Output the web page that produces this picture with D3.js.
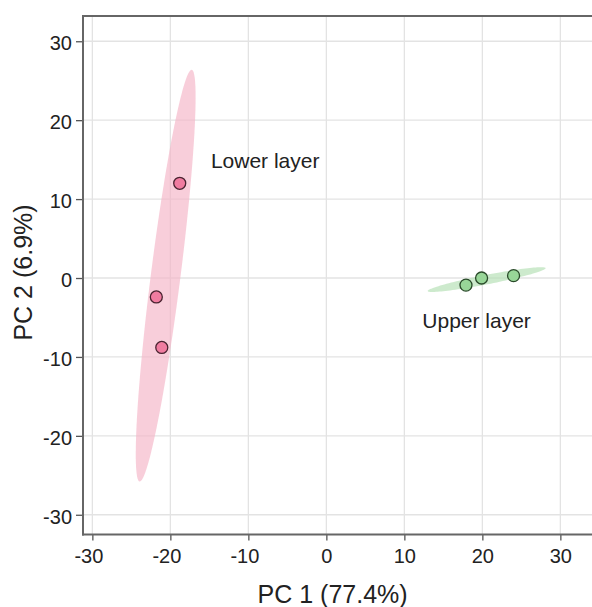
<!DOCTYPE html>
<html>
<head>
<meta charset="utf-8">
<script src="https://cdn.jsdelivr.net/npm/d3@7"></script>
<style>
  body { margin: 0; background: #fff; }
  text { font-family: "Liberation Sans", Arial, sans-serif; fill: #222; }
</style>
</head>
<body>
<svg id="pca"></svg>
<script>
var width = 592;
var height = 607;
var margin = { top: 16, bottom: 73, left: 83, right: 0 };

// sample scores (PC1, PC2)
var lowerPC1 = [-18.8, -21.8, -21.1];
var lowerPC2 = [12.0, -2.4, -8.8];
var upperPC1 = [17.9, 19.9, 24.0];
var upperPC2 = [-0.9, 0.0, 0.3];
var groupNames = ["Lower layer", "Upper layer"];
var ticks = [-30, -20, -10, 0, 10, 20, 30];

// confidence ellipses: centre, semi-axes (data units), rotation (degrees)
var lowerEllipse = { cx: -20.6, cy: 0.3, a: 26.3, b: 1.9, angle: 82.7 };
var upperEllipse = { cx: 20.55, cy: -0.2, a: 7.7, b: 0.6, angle: 10.9 };

var svg = d3.select('#pca')
  .attr('width', width)
  .attr('height', height);

var x = d3.scaleLinear()
  .domain([-31.2, 34])
  .range([margin.left, margin.left + 65.2 * 7.8]);

var y = d3.scaleLinear()
  .domain([-32.5, 33.2])
  .range([height - margin.bottom + 0.5, margin.top]);

// grid
svg.append("g").selectAll("line")
  .data(ticks)
  .join("line")
    .attr("x1", d => x(d)).attr("x2", d => x(d))
    .attr("y1", margin.top).attr("y2", y.range()[0])
    .attr("stroke", "#e3e3e3").attr("stroke-width", 1.3);

svg.append("g").selectAll("line")
  .data(ticks)
  .join("line")
    .attr("y1", d => y(d)).attr("y2", d => y(d))
    .attr("x1", margin.left).attr("x2", width)
    .attr("stroke", "#e3e3e3").attr("stroke-width", 1.3);

// ellipses
function ellipsePath(e) {
  var th = e.angle * Math.PI / 180;
  var pts = d3.range(0, 361, 3).map(function(deg) {
    var t = deg * Math.PI / 180;
    var px = e.cx + e.a * Math.cos(th) * Math.cos(t) - e.b * Math.sin(th) * Math.sin(t);
    var py = e.cy + e.a * Math.sin(th) * Math.cos(t) + e.b * Math.cos(th) * Math.sin(t);
    return [x(px), y(py)];
  });
  return d3.line()(pts) + "Z";
}

svg.append("path").attr("d", ellipsePath(lowerEllipse))
  .attr("fill", "#f5b3c6").attr("fill-opacity", 0.65);
svg.append("path").attr("d", ellipsePath(upperEllipse))
  .attr("fill", "#b2dfb2").attr("fill-opacity", 0.65);

// points
var lower = lowerPC1.map((v, i) => [v, lowerPC2[i]]);
var upper = upperPC1.map((v, i) => [v, upperPC2[i]]);

svg.append("g").selectAll("circle")
  .data(lower)
  .join("circle")
    .attr("cx", d => x(d[0])).attr("cy", d => y(d[1]))
    .attr("r", 6)
    .attr("fill", "#f07ca0").attr("stroke", "#4a2330").attr("stroke-width", 1.3);

svg.append("g").selectAll("circle")
  .data(upper)
  .join("circle")
    .attr("cx", d => x(d[0])).attr("cy", d => y(d[1]))
    .attr("r", 6)
    .attr("fill", "#98d698").attr("stroke", "#2a4a2a").attr("stroke-width", 1.3);

// group labels
svg.append("text")
  .attr("x", x(-14.8)).attr("y", y(14.0))
  .style("font-size", "21px")
  .text(groupNames[0]);

svg.append("text")
  .attr("x", x(12.3)).attr("y", y(-6.3))
  .style("font-size", "21px")
  .text(groupNames[1]);

// axes
var xAxis = svg.append("g")
  .attr("transform", "translate(0," + y.range()[0] + ")")
  .call(d3.axisBottom(x).tickValues(ticks).tickSize(6).tickPadding(8).tickFormat(d3.format("d")));
var yAxis = svg.append("g")
  .attr("transform", "translate(" + margin.left + ",0)")
  .call(d3.axisLeft(y).tickValues(ticks).tickSize(7).tickPadding(4).tickFormat(d3.format("d")));

[xAxis, yAxis].forEach(function(g) {
  g.select(".domain").remove();
  g.selectAll(".tick line").attr("stroke", "#555").attr("stroke-width", 1.3);
  g.selectAll(".tick text")
    .style("font-size", "20px")
    .style("font-family", "'Liberation Sans', Arial, sans-serif")
    .attr("fill", "#222")
    .text(d => d < 0 ? "-" + Math.abs(d) : d);
});
xAxis.selectAll(".tick text").attr("dx", d => d < 0 ? -4 : 0);
yAxis.selectAll(".tick text").attr("y", 2);

// frame: top, left, bottom
svg.append("line")
  .attr("x1", margin.left).attr("x2", width)
  .attr("y1", margin.top).attr("y2", margin.top)
  .attr("stroke", "#666").attr("stroke-width", 2);
svg.append("line")
  .attr("x1", margin.left).attr("x2", margin.left)
  .attr("y1", margin.top - 1).attr("y2", y.range()[0] + 1)
  .attr("stroke", "#666").attr("stroke-width", 2);
svg.append("line")
  .attr("x1", margin.left - 1).attr("x2", width)
  .attr("y1", y.range()[0]).attr("y2", y.range()[0])
  .attr("stroke", "#666").attr("stroke-width", 2);

// axis titles
svg.append("text")
  .attr("text-anchor", "middle")
  .attr("x", x(0.8)).attr("y", 603)
  .style("font-size", "25px")
  .text("PC 1 (77.4%)");

svg.append("text")
  .attr("text-anchor", "middle")
  .attr("transform", "translate(32," + y(0.7) + ") rotate(-90)")
  .style("font-size", "25px")
  .text("PC 2 (6.9%)");
</script>
</body>
</html>
